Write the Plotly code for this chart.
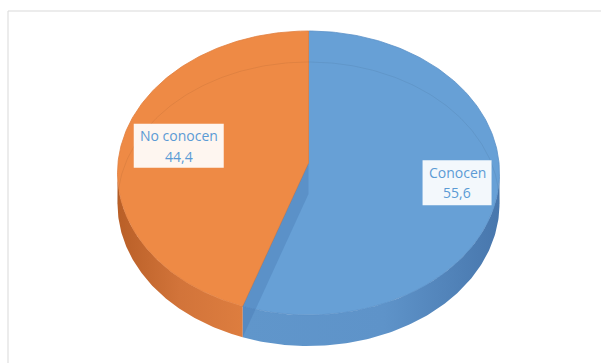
import numpy as np
import plotly.graph_objects as go

# Survey result: share of respondents who know / don't know
labels = ["Conocen", "No conocen"]
values = [55.6, 44.4]
value_text = ["55,6", "44,4"]

# Styling per slice
top_colors = ["#67A0D6", "#EE8A45"]
rim_colors = ["#5B90C8", "#E17F3F"]
side_scales = [
    [[0, "#6096CB"], [0.55, "#5E93C9"], [1, "#4877AD"]],
    [[0, "#B95F27"], [0.5, "#D2743A"], [1, "#DD7D3F"]],
]
label_radius = [0.79, 0.69]
label_box = [(69, 45), (90, 44)]
LINE_GAP = 20.5

# Projected geometry of the tilted disc (pixel units)
W, H = 601, 363
CX, CY = 308.5, 173.0
RX, RY = 191.0, 142.0
APEX_Y = 163.0
DEPTH = 31.0


def rim(t, dy=0.0):
    t = np.asarray(t, dtype=float)
    return CX + RX * np.sin(t), CY - RY * np.cos(t) + dy


fig = go.Figure()

total = float(sum(values))
bounds = np.concatenate([[0.0], np.cumsum(values) / total * 2 * np.pi])

# Side walls (front half only)
for i in range(len(values)):
    a = max(bounds[i], np.pi / 2)
    b = min(bounds[i + 1], 3 * np.pi / 2)
    if a >= b:
        continue
    t = np.linspace(a, b, 120)
    xt, yt = rim(t)
    xb, yb = rim(t[::-1], DEPTH)
    xs = np.concatenate([xt, xb, xt[:1]])
    ys = np.concatenate([yt, yb, yt[:1]])
    fig.add_trace(go.Scatter(
        x=xs, y=ys, mode="lines", fill="toself",
        line=dict(width=0), hoverinfo="skip", showlegend=False,
        fillgradient=dict(type="horizontal", colorscale=side_scales[i],
                          start=float(xs.min()), stop=float(xs.max())),
    ))

# Top faces
for i in range(len(values)):
    t = np.linspace(bounds[i], bounds[i + 1], 200)
    xr, yr = rim(t)
    xs = np.concatenate([[CX], xr, [CX]])
    ys = np.concatenate([[APEX_Y], yr, [APEX_Y]])
    fig.add_trace(go.Scatter(
        x=xs, y=ys, mode="lines", fill="toself", fillcolor=top_colors[i],
        line=dict(width=0.8, color=rim_colors[i]),
        hoverinfo="skip", showlegend=False,
    ))

# Cut face of the first slice seen through the surface
tb = bounds[1]
xe, ye = rim(tb)
xe2, ye2 = rim(tb, DEPTH)
fig.add_trace(go.Scatter(
    x=[CX, float(xe), float(xe2), CX, CX],
    y=[APEX_Y, float(ye), float(ye2), APEX_Y + DEPTH, APEX_Y],
    mode="lines", fill="toself", fillcolor="rgba(70,118,175,0.35)",
    line=dict(width=0), hoverinfo="skip", showlegend=False,
))

# Faint back edge of the lower rim
t = np.linspace(-np.pi / 2, np.pi / 2, 200)
xb, yb = rim(t, DEPTH)
fig.add_trace(go.Scatter(
    x=xb, y=yb, mode="lines", line=dict(width=1, color="rgba(0,0,0,0.06)"),
    hoverinfo="skip", showlegend=False,
))

# Data labels: white box with category and value on two lines
for i in range(len(values)):
    tm = (bounds[i] + bounds[i + 1]) / 2
    r = label_radius[i]
    lx = float(CX + r * RX * np.sin(tm))
    ly = float(APEX_Y - r * RY * np.cos(tm))
    bw, bh = label_box[i]
    fig.add_shape(type="rect", xref="x", yref="y",
                  x0=lx - bw / 2, x1=lx + bw / 2, y0=ly - bh / 2, y1=ly + bh / 2,
                  fillcolor="rgba(255,255,255,0.92)", line=dict(width=0), layer="above")
    for k, txt in enumerate([labels[i], value_text[i]]):
        fig.add_annotation(
            x=lx, y=ly + (k - 0.5) * LINE_GAP, xref="x", yref="y",
            text=txt, showarrow=False,
            font=dict(family="Open Sans", size=14, color="#5B9BD5"),
            xanchor="center", yanchor="middle",
        )

# Chart area outline
fig.add_shape(type="rect", xref="x", yref="y", x0=8, y0=11, x1=W + 20, y1=H + 20,
              line=dict(color="#D9D9D9", width=1), fillcolor="rgba(0,0,0,0)", layer="below")

fig.update_layout(
    width=W, height=H,
    margin=dict(l=0, r=0, t=0, b=0),
    paper_bgcolor="white", plot_bgcolor="white",
    xaxis=dict(range=[0, W], visible=False, fixedrange=True),
    yaxis=dict(range=[H, 0], visible=False, fixedrange=True),
    showlegend=False,
)

fig.write_html("out.html")
